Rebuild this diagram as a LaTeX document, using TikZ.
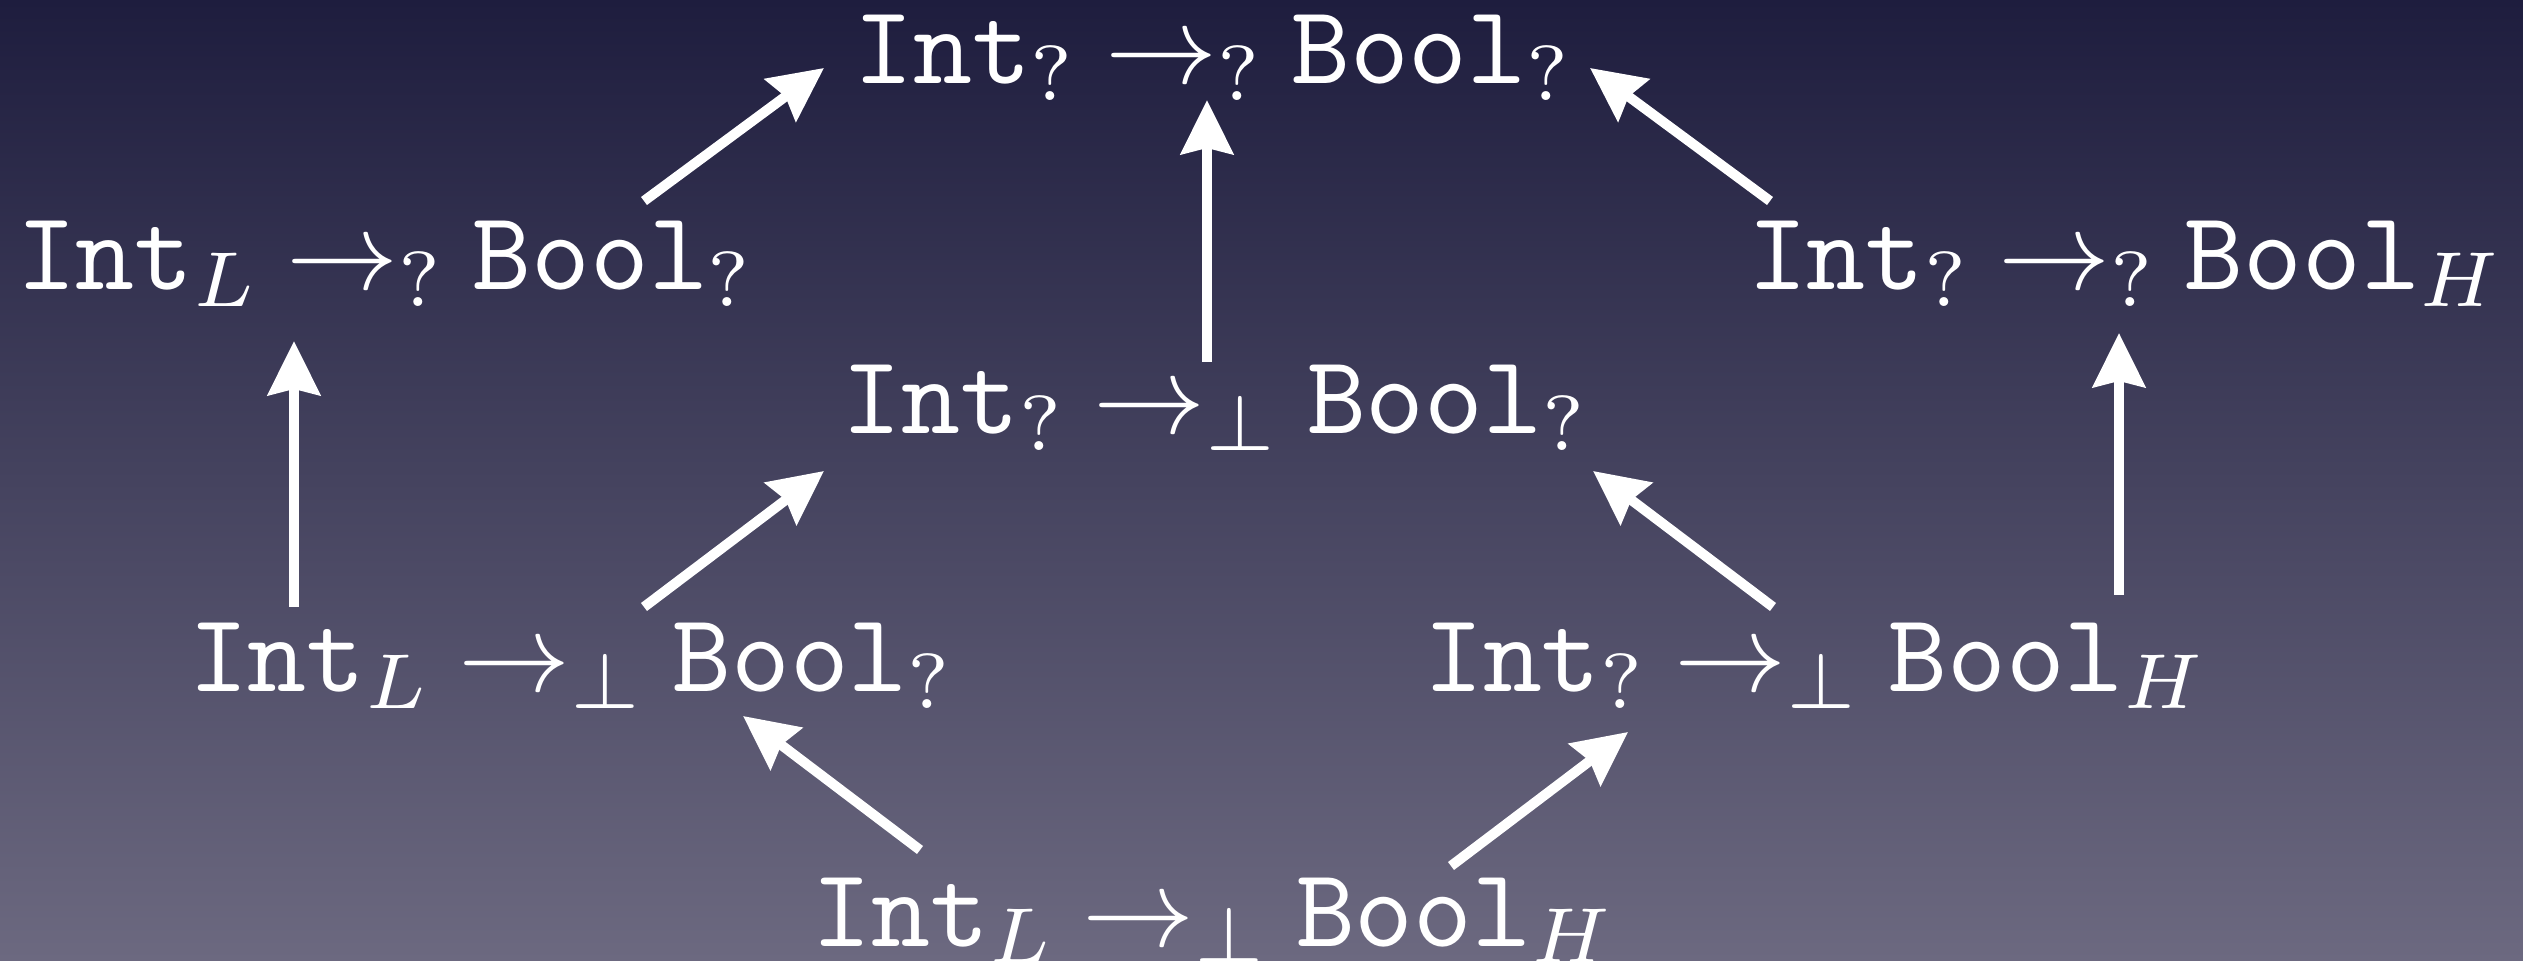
\documentclass[tikz,border=0pt]{standalone}
\DeclareFontShape{OT1}{cmr}{m}{n}{<-40> cmr7 <40-> cmr10}{}
\DeclareFontShape{OML}{cmm}{m}{it}{<-40> cmmi7 <40-> cmmi10}{}
\DeclareFontShape{OMS}{cmsy}{m}{n}{<-40> cmsy7 <40-> cmsy10}{}
\DeclareFontFamily{OT1}{cmtt}{}
\DeclareFontShape{OT1}{cmtt}{m}{n}{<-> cmtt10}{}
\DeclareMathSizes{56}{56}{39}{28}
\usetikzlibrary{arrows.meta}
\definecolor{bgtop}{RGB}{30,29,62}
\definecolor{bgbot}{RGB}{108,105,128}
\begin{document}
\begin{tikzpicture}[x=0.5pt,y=-0.5pt,
  lbl/.style={text=white, inner sep=0pt, anchor=base, font=\fontsize{56}{60}\selectfont},
  arr/.style={white, line width=5pt, -{Stealth[length=27pt,width=26pt,inset=3pt]}}]
\shade[top color=bgtop, bottom color=bgbot] (0,0) rectangle (2523,961);
\useasboundingbox (0,0) rectangle (2523,961);
\node[lbl] (T)  at (1212,84)  {$\mathtt{Int}_{?}\to_{?}\mathtt{Bool}_{?}$};
\node[lbl] (LU) at (384,290)  {$\mathtt{Int}_{L}\to_{?}\mathtt{Bool}_{?}$};
\node[lbl] (RU) at (2124,290) {$\mathtt{Int}_{?}\to_{?}\mathtt{Bool}_{H}$};
\node[lbl] (M)  at (1214,434) {$\mathtt{Int}_{?}\to_{\bot}\mathtt{Bool}_{?}$};
\node[lbl] (LL) at (570,692)  {$\mathtt{Int}_{L}\to_{\bot}\mathtt{Bool}_{?}$};
\node[lbl] (RL) at (1814,692) {$\mathtt{Int}_{?}\to_{\bot}\mathtt{Bool}_{H}$};
\node[lbl] (B)  at (1212,946) {$\mathtt{Int}_{L}\to_{\bot}\mathtt{Bool}_{H}$};
\draw[arr] ([shift={(260,-89)}]LU.base) -- ([shift={(-388,-16)}]T.base);
\draw[arr] ([shift={(-7,-72)}]M.base) -- ([shift={(-5,16)}]T.base);
\draw[arr] ([shift={(-354,-89)}]RU.base) -- ([shift={(378,-16)}]T.base);
\draw[arr] ([shift={(-276,-85)}]LL.base) -- ([shift={(-90,51)}]LU.base);
\draw[arr] ([shift={(74,-85)}]LL.base) -- ([shift={(-390,37)}]M.base);
\draw[arr] ([shift={(-41,-85)}]RL.base) -- ([shift={(379,37)}]M.base);
\draw[arr] ([shift={(305,-97)}]RL.base) -- ([shift={(-5,43)}]RU.base);
\draw[arr] ([shift={(-292,-96)}]B.base) -- ([shift={(173,24)}]LL.base);
\draw[arr] ([shift={(239,-80)}]B.base) -- ([shift={(-186,40)}]RL.base);
\end{tikzpicture}
\end{document}
